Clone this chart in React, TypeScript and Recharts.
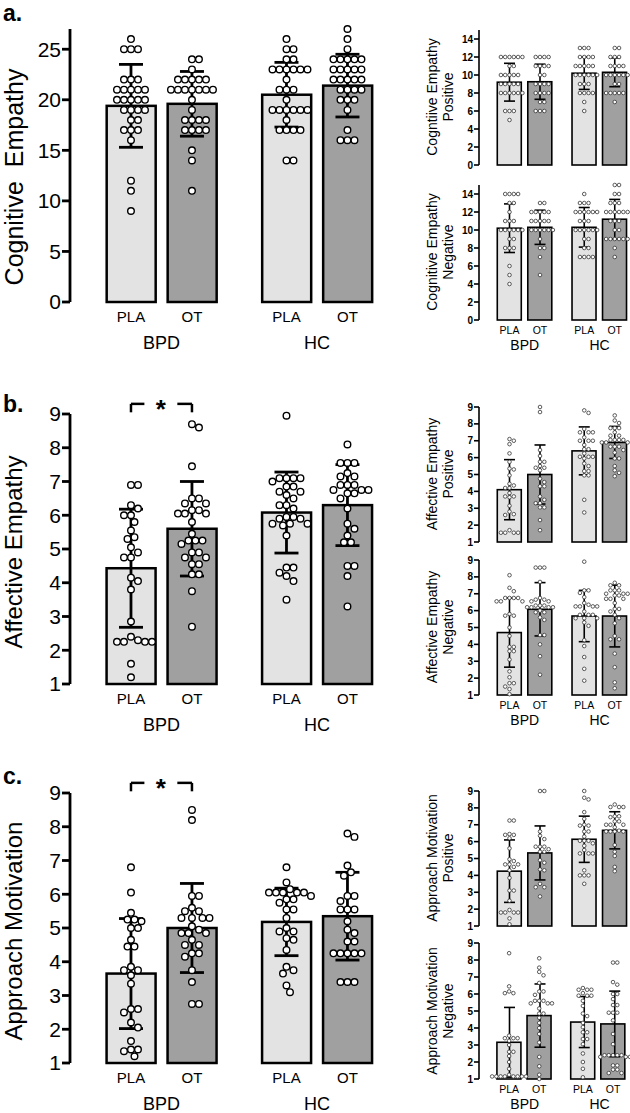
import {
  ComposedChart,
  Bar,
  Cell,
  Scatter,
  ErrorBar,
  XAxis,
  YAxis,
  ReferenceLine,
} from "recharts";

const conditions = ["PLA", "OT", "PLA", "OT"];
const groups = ["BPD", "HC"];

// a. Cognitive Empathy
const cogMean = [19.4, 19.6, 20.5, 21.4];
const cogSd = [4.1, 3.2, 3.2, 3.1];
const cogBpdPla = [26, 25, 25, 25, 22, 22, 22, 21, 21, 21, 21, 21, 20, 20, 20, 20, 20, 19, 19, 19, 19, 18, 18, 17, 17, 17, 16, 12, 11, 9];
const cogBpdOt = [24, 24, 23, 22, 22, 22, 22, 22, 21, 21, 21, 21, 21, 21, 21, 20, 19, 18, 18, 18, 18, 17, 17, 17, 17, 15, 14, 11];
const cogHcPla = [26, 25, 25, 24, 24, 23, 23, 23, 23, 23, 23, 22, 21, 21, 21, 20, 19, 19, 19, 19, 19, 19, 18, 17, 17, 17, 17, 14, 14];
const cogHcOt = [27, 26, 25, 24, 24, 24, 24, 24, 23, 23, 23, 23, 23, 22, 22, 22, 22, 22, 21, 21, 21, 21, 20, 20, 20, 19, 17, 16, 16, 16];

const cepMean = [9.2, 9.25, 10.2, 10.3];
const cepSd = [2.1, 1.95, 1.8, 1.6];
const cepBpdPla = [12, 12, 12, 12, 12, 12, 11, 11, 10, 10, 10, 10, 10, 9, 9, 9, 9, 9, 8, 8, 8, 8, 8, 8, 6, 6, 6, 5];
const cepBpdOt = [12, 12, 12, 12, 11, 11, 11, 11, 10, 10, 9, 9, 9, 9, 8, 8, 8, 8, 7, 7, 6, 6, 6];
const cepHcPla = [13, 13, 13, 12, 12, 12, 12, 11, 11, 11, 11, 11, 10, 10, 10, 10, 10, 10, 9, 9, 9, 8, 8, 8, 8, 7, 6];
const cepHcOt = [13, 13, 12, 12, 12, 11, 11, 11, 11, 10, 10, 10, 10, 10, 10, 9, 9, 8, 8, 8, 8, 8, 7];

const cenMean = [10.2, 10.3, 10.3, 11.2];
const cenSd = [2.7, 1.9, 2.2, 2.2];
const cenBpdPla = [14, 14, 14, 14, 13, 13, 12, 11, 11, 11, 10, 10, 10, 10, 10, 10, 9, 9, 8, 8, 8, 6, 5, 4];
const cenBpdOt = [13, 13, 12, 12, 12, 12, 12, 11, 11, 11, 11, 11, 10, 10, 10, 10, 10, 10, 9, 8, 8, 7, 5];
const cenHcPla = [14, 13, 13, 13, 12, 12, 12, 12, 12, 12, 11, 11, 11, 10, 10, 10, 10, 10, 10, 9, 9, 8, 8, 7, 7, 7, 7];
const cenHcOt = [15, 15, 14, 14, 13, 13, 13, 12, 12, 12, 12, 12, 12, 11, 11, 11, 10, 10, 9, 9, 9, 9, 9, 9, 8, 7];

// b. Affective Empathy
const affMean = [4.43, 5.6, 6.08, 6.3];
const affSd = [1.75, 1.4, 1.2, 1.2];
const affBpdPla = [6.9, 6.9, 6.3, 6.2, 6.0, 6.0, 5.8, 5.55, 5.35, 5.3, 5.05, 4.9, 4.75, 4.75, 4.15, 4.05, 3.8, 2.85, 2.4, 2.25, 2.25, 2.25, 2.25, 2.3, 1.6, 1.2];
const affBpdOt = [8.7, 8.6, 7.45, 6.5, 6.5, 6.35, 6.35, 6.15, 6.15, 6.05, 6.05, 6.05, 5.8, 5.45, 5.25, 5.25, 5.25, 5.15, 4.9, 4.9, 4.75, 4.75, 4.55, 4.55, 4.25, 4.25, 3.75, 2.7];
const affHcPla = [8.95, 7.1, 7.1, 7.1, 7.1, 7.0, 6.85, 6.85, 6.7, 6.7, 6.6, 6.5, 6.3, 6.3, 6.2, 5.95, 5.95, 5.9, 5.9, 5.75, 5.75, 5.75, 5.7, 5.4, 4.45, 4.45, 4.3, 4.2, 4.05, 3.5];
const affHcOt = [8.1, 7.55, 7.55, 7.55, 7.25, 7.15, 7.15, 6.9, 6.9, 6.9, 6.75, 6.75, 6.75, 6.65, 6.65, 6.5, 6.2, 5.75, 5.6, 5.4, 5.2, 5.2, 4.5, 4.5, 4.2, 3.3];

const aepMean = [4.1, 5.0, 6.4, 6.9];
const aepSd = [1.78, 1.75, 1.42, 0.95];
const aepBpdPla = [7.1, 7.0, 6.8, 6.25, 5.75, 5.35, 5.3, 4.95, 4.45, 4.35, 4.2, 4.2, 3.9, 3.7, 3.7, 3.65, 3.15, 2.8, 2.65, 2.6, 1.7, 1.55, 1.55, 1.55, 1.55];
const aepBpdOt = [9.0, 8.7, 6.45, 6.1, 5.75, 5.75, 5.5, 5.4, 5.4, 5.25, 4.75, 4.55, 4.3, 4.3, 3.7, 3.5, 3.3, 3.3, 3.05, 3.05, 2.3, 1.7];
const aepHcPla = [8.8, 8.65, 7.7, 7.5, 7.5, 7.5, 7.2, 7.0, 7.0, 7.0, 6.75, 6.5, 6.5, 6.25, 6.05, 6.05, 6.05, 5.95, 5.65, 5.5, 5.2, 5.2, 4.95, 4.95, 3.5, 2.75];
const aepHcOt = [8.5, 8.2, 8.05, 7.75, 7.75, 7.75, 7.5, 7.3, 7.3, 7.05, 7.05, 7.05, 7.05, 6.9, 6.9, 6.9, 6.65, 6.65, 6.65, 6.45, 6.3, 5.95, 5.95, 5.5, 5.25, 5.1, 4.9];

const aenMean = [4.7, 6.08, 5.68, 5.68];
const aenSd = [2.05, 1.58, 1.52, 1.83];
const aenBpdPla = [8.1, 7.35, 7.15, 6.75, 6.75, 6.75, 6.75, 6.55, 6.55, 6.55, 5.8, 5.7, 5.7, 5.0, 4.5, 3.85, 3.85, 3.6, 3.6, 3.1, 2.4, 2.05, 1.7, 1.7, 1.5, 1.35, 1.05];
const aenBpdOt = [8.55, 8.55, 8.55, 7.7, 6.75, 6.65, 6.65, 6.55, 6.55, 6.3, 6.3, 6.3, 6.2, 6.2, 6.2, 6.2, 6.0, 5.9, 5.9, 5.6, 5.45, 4.55, 4.55, 4.0, 3.3, 2.2];
const aenHcPla = [8.9, 7.2, 7.2, 7.05, 6.8, 6.45, 6.35, 6.25, 6.25, 6.25, 6.25, 5.95, 5.75, 5.75, 5.75, 5.55, 5.55, 5.55, 5.3, 5.1, 4.25, 3.9, 3.25, 2.55, 1.85];
const aenHcOt = [7.65, 7.5, 7.5, 7.2, 7.2, 7.2, 7.0, 7.0, 7.0, 6.9, 6.9, 6.7, 6.7, 6.7, 6.45, 6.1, 6.1, 5.95, 5.75, 5.55, 5.25, 4.5, 4.3, 4.3, 3.45, 2.65, 1.75, 1.4];

// c. Approach Motivation
const appMean = [3.65, 5.0, 5.18, 5.35];
const appSd = [1.63, 1.32, 1.0, 1.3];
const appBpdPla = [6.8, 6.05, 5.45, 5.25, 5.25, 5.2, 5.0, 5.0, 4.65, 4.45, 4.45, 3.85, 3.75, 3.75, 3.6, 3.35, 2.6, 2.6, 2.5, 2.2, 2.05, 1.65, 1.4, 1.4, 1.35, 1.2];
const appBpdOt = [8.5, 8.2, 5.95, 5.95, 5.6, 5.5, 5.5, 5.3, 5.3, 5.3, 5.3, 5.05, 4.95, 4.85, 4.85, 4.85, 4.65, 4.5, 4.5, 4.25, 4.25, 4.15, 3.75, 3.4, 2.75, 2.75];
const appHcPla = [6.8, 6.35, 6.15, 6.05, 6.05, 6.05, 6.05, 6.05, 5.95, 5.85, 5.85, 5.75, 5.55, 5.55, 5.3, 5.0, 4.9, 4.9, 4.7, 4.65, 4.35, 3.85, 3.75, 3.65, 3.3, 3.1];
const appHcOt = [7.8, 7.7, 6.85, 6.65, 6.55, 5.95, 5.95, 5.8, 5.55, 5.55, 5.55, 5.2, 4.95, 4.85, 4.6, 4.6, 4.25, 4.25, 4.25, 4.25, 4.25, 3.4, 3.4, 3.4];

const ampMean = [4.25, 5.33, 6.14, 6.67];
const ampSd = [1.85, 1.6, 1.37, 1.1];
const ampBpdPla = [7.25, 7.25, 6.45, 6.4, 6.4, 6.2, 5.6, 4.95, 4.85, 4.65, 4.65, 4.65, 4.5, 4.3, 3.85, 3.1, 3.1, 2.5, 1.95, 1.8, 1.8, 1.8, 1.8, 1.45, 1.1];
const ampBpdOt = [9.0, 9.0, 6.6, 6.35, 6.15, 5.7, 5.7, 5.7, 5.55, 5.4, 5.4, 4.9, 4.75, 4.35, 4.3, 3.5, 3.3, 3.3, 2.75];
const ampHcPla = [9.0, 8.6, 8.5, 7.75, 7.35, 7.0, 6.95, 6.95, 6.6, 6.6, 6.3, 6.05, 6.05, 6.05, 5.9, 5.75, 5.5, 5.3, 5.3, 5.3, 4.3, 4.0, 4.0, 4.0, 3.5];
const ampHcOt = [8.2, 8.05, 8.05, 8.05, 7.5, 7.5, 7.45, 7.2, 7.2, 7.0, 7.0, 7.0, 6.85, 6.65, 6.6, 6.6, 6.6, 6.6, 5.8, 5.4, 5.15, 4.5, 4.25];

const amnMean = [3.16, 4.73, 4.35, 4.24];
const amnSd = [2.05, 1.86, 1.5, 1.93];
const amnBpdPla = [8.4, 6.45, 6.15, 6.05, 6.05, 3.55, 3.4, 3.4, 3.4, 3.25, 3.0, 2.6, 2.6, 2.35, 2.0, 1.6, 1.25, 1.15, 1.15, 1.15, 1.15, 1.15, 1.15, 1.15, 1.15];
const amnBpdOt = [8.1, 7.55, 7.3, 7.1, 6.65, 6.15, 6.15, 5.95, 5.6, 5.6, 5.6, 5.45, 5.45, 5.45, 5.15, 4.85, 4.85, 4.6, 4.3, 4.0, 3.65, 3.15, 2.3, 1.75, 1.25, 1.0];
const amnHcPla = [6.35, 6.25, 6.25, 6.25, 6.05, 5.9, 5.9, 5.9, 5.6, 5.3, 4.85, 4.7, 4.3, 4.05, 3.75, 3.75, 3.35, 3.35, 3.05, 2.5, 2.0, 1.6, 1.1];
const amnHcOt = [7.85, 7.85, 6.7, 6.55, 6.0, 6.0, 5.7, 5.35, 5.35, 4.9, 4.9, 4.9, 4.45, 3.65, 3.05, 2.4, 2.4, 2.4, 2.4, 2.4, 2.3, 2.3, 2.3, 1.8, 1.8, 1.55, 1.55, 1.35, 1.35];

const ticksA = [0, 5, 10, 15, 20, 25];
const ticksSmallA = [0, 2, 4, 6, 8, 10, 12, 14];
const ticks19 = [1, 2, 3, 4, 5, 6, 7, 8, 9];

const FONT = "'Liberation Sans', Arial, Helvetica, sans-serif";
const barFills = ["#e3e3e3", "#a0a0a0", "#e3e3e3", "#a0a0a0"];

const STYLE = {
  big: {
    xPos: [1, 2, 3.55, 4.55],
    groupX: [1.5, 4.05],
    xDom: [0, 5.1],
    barSize: 49,
    r: 3.3,
    d: 7,
    dotStroke: 1.4,
    dotColor: "#000",
    barStroke: 2.5,
    errStroke: 2.8,
    cap: 12,
    axisStroke: 2.8,
    tickSize: 8,
    tickFont: 21,
    tickWeight: "normal",
    condFont: 15,
    condH: 22,
    condMargin: 6,
    grpFont: 18,
    grpH: 30,
    grpMargin: 9,
  },
  small: {
    xPos: [1, 2, 3.45, 4.45],
    groupX: [1.5, 3.95],
    xDom: [0, 4.95],
    barSize: 24,
    r: 1.8,
    d: 4.3,
    dotStroke: 0.8,
    dotColor: "#333",
    barStroke: 1.6,
    errStroke: 1.6,
    cap: 5.5,
    axisStroke: 1.6,
    tickSize: 5,
    tickFont: 10,
    tickWeight: "bold",
    condFont: 10.5,
    condH: 14,
    condMargin: 4,
    grpFont: 14,
    grpH: 22,
    grpMargin: 3,
  },
};

// simple beeswarm: spread dots sideways so they don't overlap
function swarm(values: number[], xc: number, kx: number, ky: number, d: number) {
  const placed: { px: number; py: number }[] = [];
  const out: { x: number; y: number }[] = [];
  const order = values.map((_, i) => i).sort((a, b) => values[b] - values[a]);
  for (const i of order) {
    const py = values[i] * ky;
    for (let k = 0; k < 60; k++) {
      const off = (k === 0 ? 0 : (k % 2 ? 1 : -1) * Math.ceil(k / 2)) * d * 0.5;
      if (placed.every((p) => (p.px - off) ** 2 + (p.py - py) ** 2 >= d * d * 0.95)) {
        placed.push({ px: off, py });
        out.push({ x: xc + off / kx, y: values[i] });
        break;
      }
    }
  }
  return out;
}

interface PanelProps {
  left: number;
  top: number;
  plot: { left: number; top: number; right: number; bottom: number };
  yDomain: [number, number];
  yTicks: number[];
  means: number[];
  sds: number[];
  dots: number[][];
  size: "big" | "small";
  showX?: boolean;
  sig?: boolean;
}

function Panel({ left, top, plot, yDomain, yTicks, means, sds, dots, size, showX, sig }: PanelProps) {
  const s = STYLE[size];
  const kx = (plot.right - plot.left) / (s.xDom[1] - s.xDom[0]);
  const ky = (plot.bottom - plot.top) / (yDomain[1] - yDomain[0]);
  const bars = means.map((m, i) => ({ x: s.xPos[i], mean: m, sd: sds[i] }));
  const pts = dots.flatMap((vals, i) => swarm(vals, s.xPos[i], kx, ky, s.d));
  const xH = showX ? s.condH + s.grpH : 0;
  const width = plot.right - left + 3;
  const height = plot.bottom - top + xH + 8;
  const axisTick = { fontSize: s.tickFont, fill: "#000", fontFamily: FONT, fontWeight: s.tickWeight };
  const sigY = yDomain[1] + 0.3;
  const sigDrop = yDomain[1] + 0.05;
  const black = { stroke: "#000", strokeWidth: 2.5, ifOverflow: "visible" as const };

  return (
    <div style={{ position: "absolute", left, top }}>
      <ComposedChart
        width={width}
        height={height}
        data={bars}
        margin={{ top: plot.top - top, left: 0, right: 3, bottom: 8 }}
      >
        <XAxis
          type="number"
          dataKey="x"
          domain={s.xDom}
          ticks={s.xPos}
          interval={0}
          hide={!showX}
          height={s.condH}
          axisLine={false}
          tickLine={false}
          tickSize={3}
          tickMargin={s.condMargin}
          tick={{ fontSize: s.condFont, fill: "#000", fontFamily: FONT }}
          tickFormatter={(v: number) => conditions[s.xPos.indexOf(v)]}
        />
        <XAxis
          xAxisId="g"
          type="number"
          dataKey="x"
          domain={s.xDom}
          ticks={s.groupX}
          interval={0}
          hide={!showX}
          height={s.grpH}
          axisLine={false}
          tickLine={false}
          tickSize={3}
          tickMargin={s.grpMargin}
          tick={{ fontSize: s.grpFont, fill: "#000", fontFamily: FONT }}
          tickFormatter={(v: number) => groups[s.groupX.indexOf(v)]}
        />
        <YAxis
          type="number"
          domain={yDomain}
          ticks={yTicks}
          interval={0}
          width={plot.left - left}
          axisLine={{ stroke: "#000", strokeWidth: s.axisStroke }}
          tickLine={{ stroke: "#000", strokeWidth: s.axisStroke }}
          tickSize={s.tickSize}
          tickMargin={1}
          tick={axisTick}
        />
        <Bar
          dataKey="mean"
          isAnimationActive={false}
          shape={(p: any) => (
            <rect
              x={p.x + p.width / 2 - s.barSize / 2}
              y={p.y}
              width={s.barSize}
              height={p.height}
              fill={p.fill}
              stroke="#000"
              strokeWidth={s.barStroke}
            />
          )}
        >
          {bars.map((_, i) => (
            <Cell key={i} fill={barFills[i]} />
          ))}
        </Bar>
        <Scatter
          data={pts}
          dataKey="y"
          isAnimationActive={false}
          shape={(p: any) => (
            <circle cx={p.cx} cy={p.cy} r={s.r} fill="#fff" stroke={s.dotColor} strokeWidth={s.dotStroke} />
          )}
        />
        <Scatter
          xAxisId="g"
          data={bars.map((b) => ({ x: b.x, y: b.mean, sd: b.sd }))}
          dataKey="y"
          isAnimationActive={false}
          shape={() => <g />}
        >
          <ErrorBar dataKey="sd" direction="y" width={s.cap} strokeWidth={s.errStroke} stroke="#000" />
        </Scatter>
        {sig && (
          <>
            <ReferenceLine segment={[{ x: 1, y: sigDrop }, { x: 1, y: sigY }]} {...black} />
            <ReferenceLine segment={[{ x: 1, y: sigY }, { x: 1.22, y: sigY }]} {...black} />
            <ReferenceLine segment={[{ x: 1.76, y: sigY }, { x: 2, y: sigY }]} {...black} />
            <ReferenceLine segment={[{ x: 2, y: sigY }, { x: 2, y: sigDrop }]} {...black} />
            <ReferenceLine
              segment={[{ x: 1.22, y: sigY }, { x: 1.76, y: sigY }]}
              stroke="none"
              ifOverflow="visible"
              label={(p: any) => (
                <text
                  x={p.viewBox.x + p.viewBox.width / 2}
                  y={p.viewBox.y + 14}
                  textAnchor="middle"
                  fontSize={26}
                  fontWeight="bold"
                  fontFamily={FONT}
                >
                  *
                </text>
              )}
            />
          </>
        )}
      </ComposedChart>
    </div>
  );
}

const bigLabels = [
  { text: "Cognitive  Empathy", x: 23, y: 177, size: 25 },
  { text: "Affective Empathy", x: 22, y: 552, size: 24 },
  { text: "Approach Motivation", x: 22, y: 931, size: 24 },
];
const smallLabels = [
  { lines: ["Cogntiive Empathy", "Positive"], y: 97 },
  { lines: ["Cognitive Empathy", "Negative"], y: 252 },
  { lines: ["Affective Empathy", "Positive"], y: 474 },
  { lines: ["Affective Empathy", "Negative"], y: 627 },
  { lines: ["Approach Motivation", "Positive"], y: 858 },
  { lines: ["Approach Motivation", "Negative"], y: 1011 },
];
const panelLetters = [
  { text: "a.", y: 21 },
  { text: "b.", y: 412 },
  { text: "c.", y: 784 },
];

export default function App() {
  const BIG = { left: 70, right: 381 };
  const SM = { left: 479, right: 630 };
  return (
    <div
      style={{
        position: "absolute",
        left: 0,
        top: 0,
        width: 630,
        height: 1113,
        overflow: "hidden",
        background: "#fff",
        fontFamily: FONT,
      }}
    >
      <Panel left={0} top={0} plot={{ ...BIG, top: 29, bottom: 302 }} yDomain={[0, 27]} yTicks={ticksA}
        means={cogMean} sds={cogSd} dots={[cogBpdPla, cogBpdOt, cogHcPla, cogHcOt]} size="big" showX />
      <Panel left={0} top={380} plot={{ ...BIG, top: 414, bottom: 684 }} yDomain={[1, 9]} yTicks={ticks19}
        means={affMean} sds={affSd} dots={[affBpdPla, affBpdOt, affHcPla, affHcOt]} size="big" showX sig />
      <Panel left={0} top={760} plot={{ ...BIG, top: 793, bottom: 1063 }} yDomain={[1, 9]} yTicks={ticks19}
        means={appMean} sds={appSd} dots={[appBpdPla, appBpdOt, appHcPla, appHcOt]} size="big" showX sig />

      <Panel left={455} top={20} plot={{ ...SM, top: 30, bottom: 165 }} yDomain={[0, 15]} yTicks={ticksSmallA}
        means={cepMean} sds={cepSd} dots={[cepBpdPla, cepBpdOt, cepHcPla, cepHcOt]} size="small" />
      <Panel left={455} top={175} plot={{ ...SM, top: 185, bottom: 320 }} yDomain={[0, 15]} yTicks={ticksSmallA}
        means={cenMean} sds={cenSd} dots={[cenBpdPla, cenBpdOt, cenHcPla, cenHcOt]} size="small" showX />
      <Panel left={455} top={397} plot={{ ...SM, top: 407, bottom: 542 }} yDomain={[1, 9]} yTicks={ticks19}
        means={aepMean} sds={aepSd} dots={[aepBpdPla, aepBpdOt, aepHcPla, aepHcOt]} size="small" />
      <Panel left={455} top={550} plot={{ ...SM, top: 560, bottom: 695 }} yDomain={[1, 9]} yTicks={ticks19}
        means={aenMean} sds={aenSd} dots={[aenBpdPla, aenBpdOt, aenHcPla, aenHcOt]} size="small" showX />
      <Panel left={455} top={781} plot={{ ...SM, top: 791, bottom: 926 }} yDomain={[1, 9]} yTicks={ticks19}
        means={ampMean} sds={ampSd} dots={[ampBpdPla, ampBpdOt, ampHcPla, ampHcOt]} size="small" />
      <Panel left={455} top={933} plot={{ ...SM, top: 943, bottom: 1079 }} yDomain={[1, 9]} yTicks={ticks19}
        means={amnMean} sds={amnSd} dots={[amnBpdPla, amnBpdOt, amnHcPla, amnHcOt]} size="small" showX />

      <svg
        width={630}
        height={1113}
        style={{ position: "absolute", left: 0, top: 0, pointerEvents: "none" }}
        fontFamily={FONT}
      >
        {panelLetters.map((p) => (
          <text key={p.text} x={3} y={p.y} fontSize={23} fontWeight="bold">
            {p.text}
          </text>
        ))}
        {bigLabels.map((l) => (
          <text
            key={l.text}
            transform={`translate(${l.x},${l.y}) rotate(-90)`}
            textAnchor="middle"
            fontSize={l.size}
            style={{ whiteSpace: "pre" }}
          >
            {l.text}
          </text>
        ))}
        {smallLabels.map((l) => (
          <g key={l.lines.join(" ") + l.y}>
            <text transform={`translate(437,${l.y}) rotate(-90)`} textAnchor="middle" fontSize={14}>
              {l.lines[0]}
            </text>
            <text transform={`translate(453,${l.y}) rotate(-90)`} textAnchor="middle" fontSize={14}>
              {l.lines[1]}
            </text>
          </g>
        ))}
      </svg>
    </div>
  );
}
